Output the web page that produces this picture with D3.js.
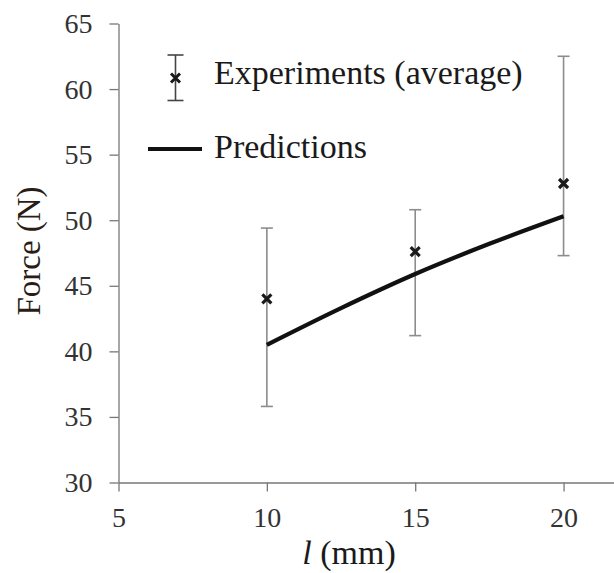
<!DOCTYPE html>
<html><body style="margin:0;background:#fff">
<script src="https://cdnjs.cloudflare.com/ajax/libs/d3/7.8.5/d3.min.js"></script>
<svg id="chart" width="614" height="573" font-family="Liberation Serif"></svg>
<script>
// experiments (average) with min/max error bars
var expL = [10, 15, 20];
var expForce = [44.0, 47.6, 52.8];
var expLow = [35.8, 41.2, 47.3];
var expHigh = [49.4, 50.8, 62.5];

// predictions
var predL = [10, 12.5, 15, 17.5, 20];
var predForce = [40.5, 43.3, 45.9, 48.2, 50.3];

var xTicks = [5, 10, 15, 20];
var yTicks = [30, 35, 40, 45, 50, 55, 60, 65];

var svg = d3.select("#chart");

var x = d3.scaleLinear().domain([5, 21.7]).range([118.5, 614]);
var y = d3.scaleLinear().domain([30, 65]).range([482.5, 23.5]);

var axisColor = "#777";

var xAxis = svg.append("g")
    .attr("transform", "translate(0," + y(30) + ")")
    .call(d3.axisBottom(x).tickValues(xTicks).tickSize(9).tickSizeOuter(0).tickPadding(16));

var yAxis = svg.append("g")
    .attr("transform", "translate(" + x(5) + ",0)")
    .call(d3.axisLeft(y).tickValues(yTicks).tickSize(9).tickSizeOuter(0).tickPadding(17));

[xAxis, yAxis].forEach(function(a) {
  a.attr("font-family", "Liberation Serif").attr("font-size", 28);
  a.select(".domain").attr("stroke", axisColor).attr("stroke-width", 1.3);
  a.selectAll(".tick line").attr("stroke", axisColor).attr("stroke-width", 1.3);
  a.selectAll(".tick text").attr("fill", "#333");
});

// error bars
var exp = expL.map(function(d, i) {
  return { l: d, f: expForce[i], lo: expLow[i], hi: expHigh[i] };
});

var bars = svg.append("g").selectAll("g").data(exp).enter().append("g");
bars.append("line")
    .attr("x1", function(d) { return x(d.l); })
    .attr("x2", function(d) { return x(d.l); })
    .attr("y1", function(d) { return y(d.lo); })
    .attr("y2", function(d) { return y(d.hi); })
    .attr("stroke", "#8c8c8c").attr("stroke-width", 1.6);
bars.selectAll(".cap").data(function(d) { return [[d.l, d.lo], [d.l, d.hi]]; })
  .enter().append("line")
    .attr("x1", function(d) { return x(d[0]) - 6; })
    .attr("x2", function(d) { return x(d[0]) + 6; })
    .attr("y1", function(d) { return y(d[1]); })
    .attr("y2", function(d) { return y(d[1]); })
    .attr("stroke", "#8c8c8c").attr("stroke-width", 1.6);

// prediction line
var pred = predL.map(function(d, i) { return [d, predForce[i]]; });
svg.append("path")
    .datum(pred)
    .attr("fill", "none")
    .attr("stroke", "#111")
    .attr("stroke-width", 4.2)
    .attr("d", d3.line().x(function(d) { return x(d[0]); }).y(function(d) { return y(d[1]); }).curve(d3.curveMonotoneX));

// markers
function cross(cx, cy) {
  var s = 4.5;
  return "M" + (cx - s) + "," + (cy - s) + "L" + (cx + s) + "," + (cy + s) +
         "M" + (cx - s) + "," + (cy + s) + "L" + (cx + s) + "," + (cy - s);
}
svg.append("g").selectAll("path").data(exp).enter().append("path")
    .attr("d", function(d) { return cross(x(d.l), y(d.f)); })
    .attr("stroke", "#1a1a1a").attr("stroke-width", 3.2).attr("fill", "none");

// legend
var lg = svg.append("g").attr("font-size", 34).attr("fill", "#1a1a1a");
lg.append("line").attr("x1", 175.5).attr("x2", 175.5).attr("y1", 55).attr("y2", 100.5)
  .attr("stroke", "#444").attr("stroke-width", 1.6);
lg.append("line").attr("x1", 167.5).attr("x2", 183.5).attr("y1", 55).attr("y2", 55)
  .attr("stroke", "#444").attr("stroke-width", 1.6);
lg.append("line").attr("x1", 167.5).attr("x2", 183.5).attr("y1", 100.5).attr("y2", 100.5)
  .attr("stroke", "#444").attr("stroke-width", 1.6);
lg.append("path").attr("d", cross(175.5, 78)).attr("stroke", "#1a1a1a").attr("stroke-width", 3);
lg.append("text").attr("x", 214).attr("y", 84).text("Experiments (average)");
lg.append("line").attr("x1", 148).attr("x2", 202).attr("y1", 149).attr("y2", 149)
  .attr("stroke", "#111").attr("stroke-width", 4.2);
lg.append("text").attr("x", 214).attr("y", 158).text("Predictions");

// axis titles
svg.append("text")
    .attr("transform", "translate(40,251) rotate(-90)")
    .attr("text-anchor", "middle")
    .attr("font-size", 33).attr("fill", "#2a1d15")
    .text("Force (N)");

var xt = svg.append("text")
    .attr("x", 349).attr("y", 564)
    .attr("text-anchor", "middle")
    .attr("font-size", 34).attr("fill", "#1a1a1a");
xt.append("tspan").attr("font-style", "italic").text("l");
xt.append("tspan").text(" (mm)");
</script>
</body></html>
